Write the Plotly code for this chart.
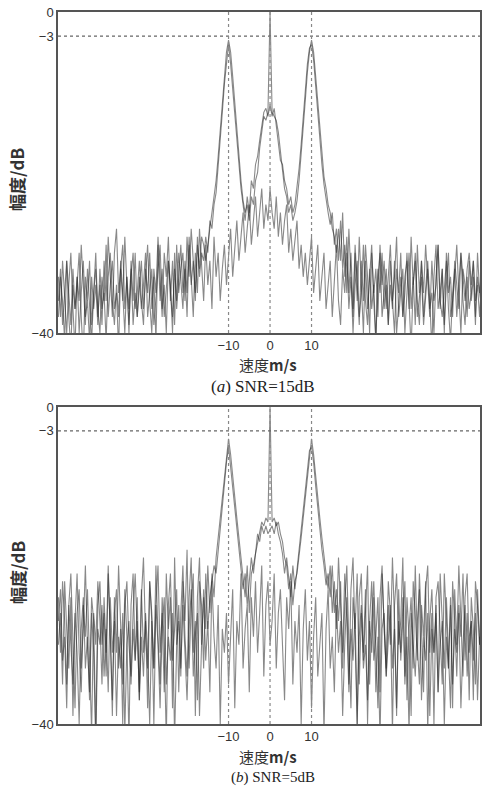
import numpy as np
import plotly.graph_objects as go

# velocity grid, m/s
VELOCITY = np.arange(-51, 51.25, 0.5)

# (a) SNR=15dB, spectrum in dB
snr15_main = [
    -33, -38, -31, -36, -40, -34, -30, -37, -42, -33, -36, -29, -35, -39, -32, -37, -41, -35, -30, -38,
    -34, -39, -31, -36, -28, -33, -38, -30, -27, -35, -32, -29, -37, -33, -40, -31, -36, -30, -38, -34,
    -31, -37, -33, -29, -36, -40, -32, -35, -28, -34, -38, -30, -33, -28, -36, -31, -39, -29, -35, -32,
    -30, -36, -28, -33, -27, -31, -35, -29, -32, -28,
    -29, -31, -29, -27, -25, -23, -21, -18, -14.5, -11, -7.5, -5, -3.5, -5, -8, -11.5, -14, -18, -21, -23.5,
    -25, -24, -26, -23, -24, -21, -20, -17, -15, -13, -13.5, -12.5, 0, -12.5, -13, -13.5, -15, -17.5, -20, -22,
    -23, -25, -24, -26, -25, -23.5, -21, -18, -14.5, -11, -7.5, -5, -3.5, -5, -8, -11, -14, -17.5, -20.5, -22,
    -24, -25, -27, -28, -30, -27,
    -31, -25, -33, -28, -35, -30, -37, -29, -34, -39,
    -31, -36, -29, -33, -40, -30, -35, -32, -38, -29,
    -34, -31, -37, -33, -29, -36, -40, -32, -35, -30, -38, -33, -31, -37, -28, -34, -30, -36, -39, -31,
    -35, -29, -33, -38, -31, -36, -34, -29, -37, -32, -40, -30, -35, -33, -38, -31, -34, -37, -30, -33,
    -36, -32, -30, -34, -31, -38, -33, -35, -32,
]
snr15_second = [
    -38, -33, -36, -41, -31, -35, -39, -32, -37, -34, -30, -38, -43, -33, -36, -31, -39, -35, -32, -37,
    -40, -33, -36, -29, -38, -34, -31, -37, -35, -42, -32, -36, -28, -34, -39, -33, -30, -37, -35, -31,
    -36, -39, -32, -35, -30, -37, -33, -41, -29, -36, -32, -38, -35, -31, -34, -40, -30, -37, -33, -29,
    -35, -32, -38, -29, -34, -31, -36, -28, -33, -30,
    -31, -28, -30, -26, -27, -24, -22.5, -19.5, -16, -12.5, -9, -6, -4, -6.5, -9.5, -13, -16, -19.5, -22, -24,
    -26, -23, -25, -21, -22, -19, -18, -16, -14, -12.5, -12, -13, -11.5, -13, -12, -14, -16, -18.5, -19, -21,
    -22, -24, -23, -25, -24, -22, -19.5, -16.5, -13, -9.5, -6.5, -4.5, -4, -6, -9.5, -12.5, -16, -19, -21.5, -23.5,
    -25, -26.5, -25, -29, -27, -31,
    -26, -32, -29, -35, -27, -33, -38, -30, -36, -28, -34, -40, -31, -37, -33, -29, -36, -41, -32, -35,
    -30, -37, -34, -39, -31, -36, -33, -28, -38, -35, -32, -40, -34, -30, -37, -33, -39, -29, -35, -31,
    -38, -34, -31, -36, -42, -33, -29, -37, -35, -32, -39, -34, -30, -38, -36, -33, -29, -35, -40, -32,
    -34, -38, -31, -36, -33, -39, -30, -35, -37,
]
snr15_noise = [
    -36, -32, -39, -35, -31, -38, -42, -34, -37, -33, -40, -35, -31, -38, -36, -41, -33, -37, -34, -39,
    -32, -37, -35, -41, -33, -30, -36, -39, -34, -38, -31, -35, -40, -33, -37, -32, -39, -35, -38, -33,
    -37, -34, -30, -38, -35, -32, -39, -36, -33, -29, -37, -34, -40, -31, -35, -38, -32, -36, -30, -34,
    -37, -31, -35, -28, -33, -38, -30, -35, -27, -32, -36, -29, -34, -31, -37, -28, -33, -30, -36, -32,
    -29, -34, -31, -27, -33, -30, -26, -31, -28, -25, -30, -27, -24, -29, -26, -23, -28, -25, -22, -27,
    -24, -26, -22, -25, -27, -23, -28, -25, -29, -26, -24, -30, -27, -31, -28, -26, -32, -29, -33, -30,
    -34, -31, -28, -35, -32, -29, -36, -33, -30, -37, -34, -31, -38, -33, -29, -36, -39, -32, -35, -30,
    -37, -33, -40, -34, -31, -38, -35, -29, -36, -39, -32, -37, -34, -41, -33, -30, -38, -35, -32, -39,
    -34, -37, -31, -40, -36, -33, -38, -35, -30, -37, -42, -34, -31, -38, -35, -33, -39, -36, -32, -37,
    -35, -40, -33, -29, -36, -38, -34, -31, -37, -41, -35, -32, -38, -34, -30, -36, -39, -33, -37, -35,
    -31, -36, -34, -38, -33,
]

# (b) SNR=5dB
snr5_main = [
    -24, -31, -22, -27, -35, -25, -21, -29, -38, -26, -23, -33, -28, -20, -30, -36, -24, -27, -41, -25,
    -22, -30, -26, -34, -21, -28, -39, -24, -31, -20, -27, -35, -23, -29, -42, -25, -21, -32, -27, -37,
    -24, -19, -29, -33, -22, -27, -40, -25, -20, -31, -26, -36, -21, -28, -24, -38, -19, -30, -25, -34,
    -22, -27, -18, -33, -25, -21, -39, -24, -19, -30, -23, -28, -20, -26,
    -21, -24, -19, -16.5, -14, -11.5, -9, -6, -4, -6, -9, -11.5, -14, -16.5, -19, -21,
    -24, -20, -26, -21, -20, -18.5, -17, -15.5, -14.5, -15, -14, -14.5, 0, -14.5, -14, -15, -14.5, -16, -17, -19,
    -20, -23, -21, -25, -22, -21, -19, -16.5, -14, -11.5, -9, -6, -4, -6, -9, -11.5, -14, -16.5, -19, -21,
    -23, -20, -26, -22, -28,
    -19, -25, -31, -21, -27, -36, -23, -19, -29, -40, -24, -21, -32, -26, -20, -35, -27, -22, -30, -38,
    -24, -20, -28, -33, -22, -26, -41, -25, -21, -30, -27, -19, -34, -24, -29, -39, -22, -26, -32, -21,
    -28, -36, -23, -20, -31, -26, -40, -24, -22, -29, -35, -21, -27, -33, -25, -38, -23, -30, -20, -28,
    -34, -24, -21, -31, -27, -37, -22, -25, -30, -23,
]
snr5_second = [
    -30, -26, -35, -22, -28, -33, -24, -39, -27, -21, -31, -36, -25, -29, -23, -34, -41, -26, -30, -22,
    -27, -35, -24, -31, -20, -29, -37, -26, -23, -33, -28, -40, -25, -22, -30, -34, -26, -21, -29, -36,
    -23, -31, -27, -38, -22, -26, -33, -20, -29, -35, -24, -30, -42, -25, -21, -32, -28, -23, -36, -26,
    -20, -29, -34, -24, -19, -31, -27, -37, -22, -25, -33, -21, -28, -24,
    -22, -20, -21, -18, -15.5, -13, -10, -7, -5, -7.5, -10.5, -13, -15.5, -18, -20, -23, -21, -25, -22, -19,
    -21, -18, -16, -17, -15, -16, -15, -16, -15.5, -15, -16, -14.5, -16, -17, -18.5, -21, -19, -22, -24, -20,
    -23, -20.5, -18, -15.5, -13, -10.5, -7.5, -5.5, -5, -7, -10, -13, -15.5, -18, -20, -22.5, -21, -24, -20, -26,
    -23,
    -27, -22, -33, -25, -20, -30, -38, -24, -28, -21, -35, -26, -31, -23, -40, -27, -22, -32, -29, -24,
    -36, -21, -28, -34, -25, -30, -19, -27, -39, -23, -32, -26, -22, -37, -28, -24, -33, -20, -30, -35,
    -25, -29, -22, -41, -27, -23, -31, -26, -36, -21, -28, -33, -24, -30, -38, -22, -27, -34, -25, -29,
    -21, -32, -26, -37, -24, -28, -35, -23, -30, -27,
]
snr5_noise = [
    -27, -23, -32, -29, -38, -25, -30, -35, -26, -31, -40, -28, -24, -33, -29, -37, -26, -31, -43, -28,
    -30, -25, -34, -28, -36, -24, -31, -27, -39, -29, -33, -26, -41, -30, -27, -35, -28, -32, -24, -37,
    -29, -34, -26, -31, -40, -27, -33, -25, -30, -38, -28, -24, -35, -29, -32, -26, -42, -30, -27, -33,
    -25, -31, -37, -28, -23, -34, -29, -26, -39, -30, -24, -32, -27, -36, -22, -29, -33, -25, -40, -28,
    -31, -26, -35, -29, -23, -38, -27, -30, -21, -33, -28, -25, -36, -24, -29, -22, -31, -26, -20, -34,
    -25, -22, -30, -27, -21, -33, -26, -23, -29, -37, -24, -28, -22, -35, -27, -31, -25, -40, -28, -23,
    -32, -27, -38, -29, -24, -34, -30, -26, -41, -28, -23, -33, -29, -36, -25, -31, -27, -39, -30, -24,
    -35, -28, -32, -26, -40, -29, -25, -33, -30, -37, -27, -31, -24, -36, -29, -42, -28, -26, -34, -30,
    -25, -33, -28, -38, -27, -31, -24, -35, -29, -41, -26, -30, -34, -27, -23, -37, -29, -32, -26, -39,
    -28, -31, -25, -36, -30, -27, -40, -29, -33, -24, -35, -28, -31, -26, -38, -30, -25, -34, -29, -27,
    -32, -26, -37, -29, -31,
]

target_speeds = [-10, 0, 10]
y_ticks = [0, -3, -40]
x_ticks = [-10, 0, 10]

line_col = "rgba(40,40,40,0.55)"
frame_col = "#555555"
tick_font = dict(family="Liberation Sans", size=13, color="#333333")

fig = go.Figure()
panels = [
    ("x", "y", [snr15_noise, snr15_second, snr15_main]),
    ("x2", "y2", [snr5_noise, snr5_second, snr5_main]),
]
for xa, ya, curves in panels:
    for vals in curves:
        fig.add_trace(go.Scatter(x=VELOCITY[:len(vals)], y=vals, xaxis=xa, yaxis=ya, mode="lines",
                                 line=dict(color=line_col, width=1.1), showlegend=False,
                                 hoverinfo="skip"))
    # dotted guides: -3 dB and the three target speeds
    fig.add_shape(type="line", xref=xa, yref=ya, x0=-51.1, x1=50.6, y0=-3, y1=-3, layer="above",
                  line=dict(color="#666666", width=1.3, dash="dot"))
    for v in target_speeds:
        fig.add_shape(type="line", xref=xa, yref=ya, x0=v, x1=v, y0=-40, y1=0, layer="above",
                      line=dict(color="#888888", width=1.2, dash="dot"))

W, H = 482, 787
xdom = [58 / W, 480 / W]
axis_x = dict(range=[-51.1, 50.6], tickvals=x_ticks, ticks="", showgrid=False, zeroline=False,
              showline=True, mirror=True, linecolor=frame_col, linewidth=1.5, tickfont=tick_font,
              automargin=False)
axis_y = dict(range=[-40, 0], tickvals=y_ticks, ticks="", showgrid=False, zeroline=False,
              showline=True, mirror=True, linecolor=frame_col, linewidth=1.5, tickfont=tick_font,
              automargin=False)

fig.update_layout(
    width=W, height=H,
    margin=dict(l=0, r=0, t=0, b=0, autoexpand=False),
    paper_bgcolor="white", plot_bgcolor="white",
    xaxis=dict(axis_x, domain=xdom, anchor="y"),
    yaxis=dict(axis_y, domain=[1 - 333 / H, 1 - 12 / H], anchor="x"),
    xaxis2=dict(axis_x, domain=xdom, anchor="y2"),
    yaxis2=dict(axis_y, domain=[1 - 724 / H, 1 - 407 / H], anchor="x2"),
)

cjk = "Noto Sans CJK SC"
labels = [
    ("<b>幅度/dB</b>", 17, 180, dict(family=cjk, size=17, color="#333333"), -90),
    ("<b>幅度/dB</b>", 17, 573, dict(family=cjk, size=17, color="#333333"), -90),
    ("速度<b>m/s</b>", 268, 364, dict(family=cjk, size=15, color="#333333"), 0),
    ("速度<b>m/s</b>", 268, 756, dict(family=cjk, size=15, color="#333333"), 0),
    ("(<i>a</i>) SNR=15dB", 263, 386, dict(family="Liberation Serif", size=17, color="#222222"), 0),
    ("(<i>b</i>) SNR=5dB", 273, 777, dict(family="Liberation Serif", size=15, color="#222222"), 0),
]
for text, px, py, font, ang in labels:
    fig.add_annotation(text=text, x=px / W, y=1 - py / H, xref="paper", yref="paper",
                       showarrow=False, font=font, textangle=ang, xanchor="center", yanchor="middle")

# page body has a default 8px margin; drop it so the figure sits at the window corner
fig.write_html("out.html", config={"displayModeBar": False},
               post_script="document.body.style.margin='0';")
